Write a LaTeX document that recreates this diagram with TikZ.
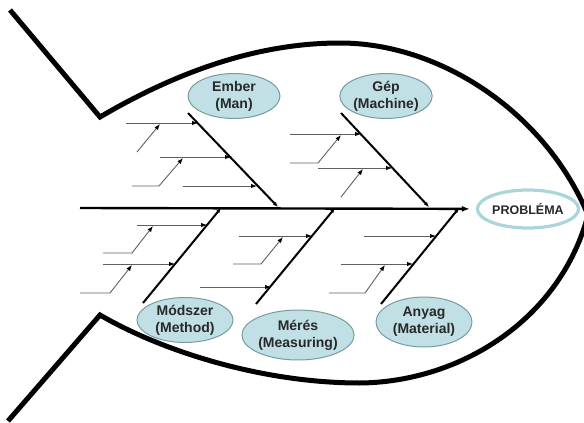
\documentclass[tikz,border=0pt]{standalone}
\usepackage{fontspec}
\setmainfont{Liberation Sans}
\usetikzlibrary{arrows.meta,shapes.geometric}
\definecolor{catfill}{RGB}{192,224,229}
\definecolor{catborder}{RGB}{120,155,160}
\definecolor{probborder}{RGB}{170,214,219}
\definecolor{txt}{RGB}{40,40,40}
\definecolor{ribcol}{RGB}{95,95,95}
\tikzset{
  outline/.style={line width=5pt, line join=miter},
  spine/.style={line width=2.4pt, -{Latex[length=8pt,width=6pt]}},
  bone/.style={line width=2pt, -{Latex[length=5pt,width=4pt]}},
  rib/.style={line width=0.9pt, draw=ribcol, -{Latex[length=6pt,width=4.5pt,black]}},
  cat/.style={ellipse, fill=catfill, draw=catborder, line width=1pt, inner sep=0pt,
    align=center, text=txt, font=\bfseries\fontsize{14}{17}\selectfont},
  probl/.style={ellipse, fill=white, draw=probborder, line width=3.2pt, inner sep=0pt,
    text=txt, font=\bfseries\fontsize{12.5}{15}\selectfont}
}
\begin{document}
\begin{tikzpicture}[x=1pt,y=-1pt]
\useasboundingbox (0,0) rectangle (584,423);
% fish outline
\draw[outline] (10,10) -- (100,117)
  .. controls (180,70) and (260,43) .. (340,43)
  .. controls (440,43) and (545,112) .. (588,215)
  .. controls (560,320) and (460,382) .. (360,383)
  .. controls (260,383) and (160,350) .. (100,315)
  -- (8,421);
% problem and categories
\node[probl, minimum width=96pt, minimum height=38pt] (prob) at (528,209) {PROBLÉMA};
\node[cat, minimum width=92pt, minimum height=45pt] (man) at (234,96) {Ember\\(Man)};
\node[cat, minimum width=92pt, minimum height=45pt] (mach) at (386,96) {Gép\\(Machine)};
\node[cat, minimum width=96pt, minimum height=45pt] (meth) at (185,320) {Módszer\\(Method)};
\node[cat, minimum width=98pt, minimum height=50pt] (meas) at (298,335) {Mérés\\(Measuring)};
\node[cat, minimum width=96pt, minimum height=50pt] (mat) at (424,322) {Anyag\\(Material)};
% spine
\coordinate (sp0) at (80,208);
\draw[spine, shorten >=6pt] (sp0) -- (prob);
% bones
\coordinate (manB0) at (188,113);  \coordinate (manB1) at (278,207);
\coordinate (machB0) at (341,113); \coordinate (machB1) at (429,207);
\coordinate (methB0) at (143,303); \coordinate (methB1) at (221,208);
\coordinate (measB0) at (256,304); \coordinate (measB1) at (335,208);
\coordinate (matB0) at (381,304);  \coordinate (matB1) at (459,208);
\draw[bone] (manB0) -- (manB1);
\draw[bone] (machB0) -- (machB1);
\draw[bone] (methB0) -- (methB1);
\draw[bone] (measB0) -- (measB1);
\draw[bone] (matB0) -- (matB1);
% Ember ribs
\coordinate (m1a) at (126,123); \coordinate (m1b) at (198,123);
\coordinate (m1s0) at (137,152); \coordinate (m1s1) at (160,124);
\coordinate (m2a) at (160,157); \coordinate (m2b) at (231,157);
\coordinate (m2s0) at (132,186); \coordinate (m2sk) at (159,186); \coordinate (m2s1) at (183,158);
\coordinate (m3a) at (183,186); \coordinate (m3b) at (257,186);
\draw[rib] (m1a) -- (m1b);
\draw[rib] (m1s0) -- (m1s1);
\draw[rib] (m2a) -- (m2b);
\draw[rib] (m2s0) -- (m2sk) -- (m2s1);
\draw[rib] (m3a) -- (m3b);
% Gep ribs
\coordinate (g1a) at (290,134); \coordinate (g1b) at (361,134);
\coordinate (g1s0) at (290,163); \coordinate (g1sk) at (318,163); \coordinate (g1s1) at (341,135);
\coordinate (g2a) at (318,168); \coordinate (g2b) at (392,168);
\coordinate (g2s0) at (341,197); \coordinate (g2s1) at (363,169);
\draw[rib] (g1a) -- (g1b);
\draw[rib] (g1s0) -- (g1sk) -- (g1s1);
\draw[rib] (g2a) -- (g2b);
\draw[rib] (g2s0) -- (g2s1);
% Modszer ribs
\coordinate (d1a) at (137,225); \coordinate (d1b) at (207,225);
\coordinate (d1s0) at (103,253); \coordinate (d1sk) at (132,253); \coordinate (d1s1) at (153,226);
\coordinate (d2a) at (103,264); \coordinate (d2b) at (175,264);
\coordinate (d2s0) at (80,293); \coordinate (d2sk) at (110,293); \coordinate (d2s1) at (132,265);
\draw[rib] (d1a) -- (d1b);
\draw[rib] (d1s0) -- (d1sk) -- (d1s1);
\draw[rib] (d2a) -- (d2b);
\draw[rib] (d2s0) -- (d2sk) -- (d2s1);
% Meres ribs
\coordinate (r1a) at (239,236); \coordinate (r1b) at (312,236);
\coordinate (r1s0) at (233,264); \coordinate (r1sk) at (261,264); \coordinate (r1s1) at (283,237);
\coordinate (r2a) at (200,287); \coordinate (r2b) at (271,287);
\draw[rib] (r1a) -- (r1b);
\draw[rib] (r1s0) -- (r1sk) -- (r1s1);
\draw[rib] (r2a) -- (r2b);
% Anyag ribs
\coordinate (a1a) at (364,236); \coordinate (a1b) at (436,236);
\coordinate (a2a) at (341,264); \coordinate (a2b) at (413,264);
\coordinate (a2s0) at (329,293); \coordinate (a2sk) at (365,293); \coordinate (a2s1) at (385,265);
\draw[rib] (a1a) -- (a1b);
\draw[rib] (a2a) -- (a2b);
\draw[rib] (a2s0) -- (a2sk) -- (a2s1);
\end{tikzpicture}
\end{document}
